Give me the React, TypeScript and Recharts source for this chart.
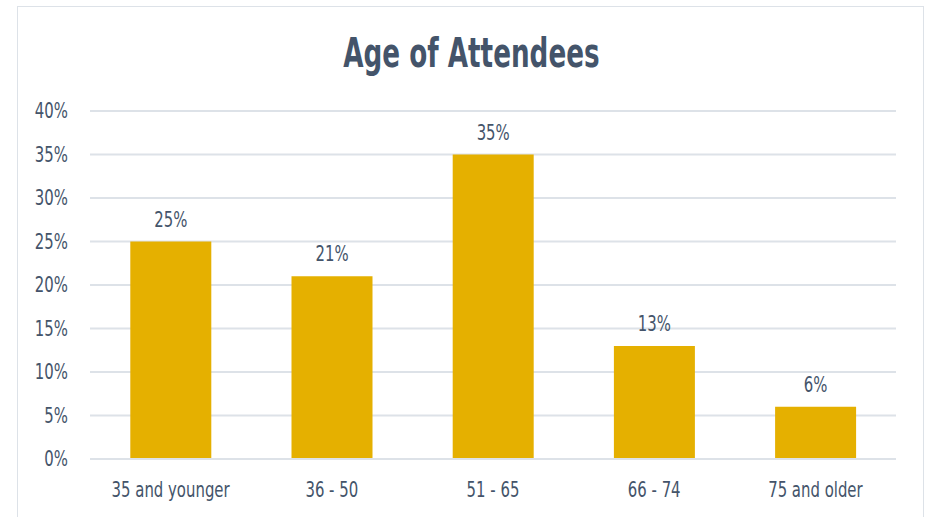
import { Bar, BarChart, CartesianGrid, LabelList, XAxis, YAxis } from "recharts";

const ageGroups = ["35 and younger", "36 - 50", "51 - 65", "66 - 74", "75 and older"];
const shares = [25, 21, 35, 13, 6];
const yTicks = [0, 5, 10, 15, 20, 25, 30, 35, 40];

const data = ageGroups.map((group, i) => ({ group, share: shares[i] }));

const FONT = "'DejaVu Sans', sans-serif";
const TEXT = "#44546A";
const GRID = "#DDE2E8";
const SQUEEZE = 0.71; // no condensed face installed, so narrow the glyphs by hand

// text drawn around (x, y) but squeezed horizontally
function Narrow({ x, y, anchor, children, size = 21 }: any) {
  return (
    <text
      transform={`translate(${x},${y}) scale(${SQUEEZE},1)`}
      textAnchor={anchor}
      fill={TEXT}
      fontSize={size}
      fontFamily={FONT}
    >
      {children}
    </text>
  );
}

const XTick = ({ x, y, payload }: any) => (
  <Narrow x={x} y={y + 26} anchor="middle">
    {payload.value}
  </Narrow>
);

const YTick = ({ x, y, payload }: any) => (
  <Narrow x={x} y={y + 7} anchor="end">
    {`${payload.value}%`}
  </Narrow>
);

const TopLabel = ({ x, y, width, value }: any) => (
  <Narrow x={x + width / 2} y={y - 15} anchor="middle">
    {`${value}%`}
  </Narrow>
);

export default function App() {
  return (
    <div style={{ position: "fixed", left: 0, top: 0, width: 930, height: 517, background: "#fff", overflow: "hidden" }}>
      <div
        style={{
          position: "absolute",
          left: 17,
          top: 6,
          width: 907,
          height: 560,
          border: `1px solid ${GRID}`,
          boxSizing: "border-box",
        }}
      />
      <div
        style={{
          position: "absolute",
          left: 0,
          top: 30,
          width: 942,
          textAlign: "center",
          fontFamily: FONT,
          fontWeight: 700,
          fontSize: 41,
          color: TEXT,
          lineHeight: "46px",
        }}
      >
        <span style={{ display: "inline-block", transform: "scaleX(0.64)" }}>Age of Attendees</span>
      </div>
      <BarChart
        width={930}
        height={517}
        data={data}
        margin={{ top: 111, right: 34, bottom: 18, left: 0 }}
        barCategoryGap="25%"
        style={{ position: "absolute", left: 0, top: 0 }}
      >
        <CartesianGrid vertical={false} stroke={GRID} strokeWidth={2} />
        <XAxis
          dataKey="group"
          height={40}
          tickLine={false}
          axisLine={{ stroke: GRID, strokeWidth: 2 }}
          tickMargin={6}
          tick={<XTick />}
        />
        <YAxis
          width={90}
          domain={[0, 40]}
          ticks={yTicks}
          tickLine={false}
          axisLine={false}
          tickMargin={16}
          tick={<YTick />}
        />
        <Bar dataKey="share" fill="#E5B000" isAnimationActive={false}>
          <LabelList dataKey="share" content={<TopLabel />} />
        </Bar>
      </BarChart>
    </div>
  );
}
